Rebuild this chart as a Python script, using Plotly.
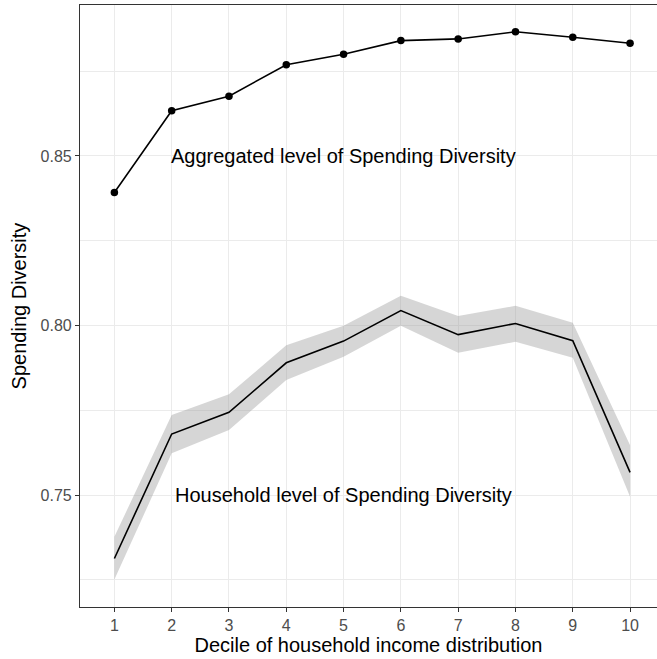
import plotly.graph_objects as go

deciles = [1, 2, 3, 4, 5, 6, 7, 8, 9, 10]
aggregated = [0.8392, 0.8633, 0.8676, 0.8769, 0.8800, 0.8840, 0.8845, 0.8866, 0.8850, 0.8832]
household = [0.7313, 0.7680, 0.7744, 0.7890, 0.7954, 0.8044, 0.7973, 0.8006, 0.7955, 0.7567]
household_upper = [0.7377, 0.7736, 0.7797, 0.7942, 0.7999, 0.8088, 0.8028, 0.8058, 0.8008, 0.7647]
household_lower = [0.7251, 0.7623, 0.7692, 0.7839, 0.7908, 0.7999, 0.7920, 0.7952, 0.7905, 0.7495]

y_ticks = [0.75, 0.80, 0.85]
y_tick_text = ["0.75", "0.80", "0.85"]
x_title = "Decile of household income distribution"
y_title = "Spending Diversity"
label_agg = "Aggregated level of Spending Diversity"
label_hh = "Household level of Spending Diversity"

FONT = "Liberation Sans, Arial, sans-serif"

fig = go.Figure()

# ribbon
fig.add_trace(go.Scatter(x=deciles, y=household_upper, mode="lines",
                         line=dict(width=0, color="rgba(0,0,0,0)"),
                         showlegend=False, hoverinfo="skip"))
fig.add_trace(go.Scatter(x=deciles, y=household_lower, mode="lines",
                         line=dict(width=0, color="rgba(0,0,0,0)"),
                         fill="tonexty", fillcolor="rgba(153,153,153,0.4)",
                         showlegend=False, hoverinfo="skip"))
fig.add_trace(go.Scatter(x=deciles, y=household, mode="lines",
                         line=dict(color="black", width=1.6),
                         showlegend=False))
fig.add_trace(go.Scatter(x=deciles, y=aggregated, mode="lines+markers",
                         line=dict(color="black", width=1.6),
                         marker=dict(color="black", size=7.5),
                         showlegend=False))

fig.add_annotation(x=5, y=0.85, text=label_agg, showarrow=False,
                   font=dict(family=FONT, size=20, color="black"),
                   xanchor="center", yanchor="middle")
fig.add_annotation(x=5, y=0.75, text=label_hh, showarrow=False,
                   font=dict(family=FONT, size=20, color="black"),
                   xanchor="center", yanchor="middle")

fig.update_layout(
    width=657, height=659,
    margin=dict(l=80, r=0, t=5, b=52, autoexpand=False),
    paper_bgcolor="white", plot_bgcolor="white",
    font=dict(family=FONT),
    showlegend=False,
)

fig.update_xaxes(
    range=[0.40, 10.47], automargin=False,
    tickmode="array", tickvals=deciles, ticktext=[str(d) for d in deciles],
    showgrid=True, gridcolor="#EBEBEB", gridwidth=1.1,
    zeroline=False,
    showline=True, linecolor="#333333", linewidth=1.1, mirror=True,
    ticks="outside", ticklen=4, tickcolor="#333333", tickwidth=1.1,
    tickfont=dict(family=FONT, size=16, color="#4D4D4D"),
    title=dict(text=x_title, font=dict(family=FONT, size=20, color="black"), standoff=2),
)
fig.update_yaxes(
    range=[0.7170, 0.8945], automargin=False,
    tickmode="array", tickvals=y_ticks, ticktext=y_tick_text,
    showgrid=True, gridcolor="#EBEBEB", gridwidth=1.1,
    minor=dict(tickmode="array", tickvals=[0.725, 0.775, 0.825, 0.875],
               showgrid=True, gridcolor="#EBEBEB", gridwidth=0.55, ticks=""),
    zeroline=False,
    showline=True, linecolor="#333333", linewidth=1.1, mirror=True,
    ticks="outside", ticklen=4, tickcolor="#333333", tickwidth=1.1,
    tickfont=dict(family=FONT, size=16, color="#4D4D4D"),
    title=dict(text=y_title, font=dict(family=FONT, size=20, color="black"), standoff=8),
)

fig.write_html(
    "out.html",
    config={"displayModeBar": False},
    post_script="document.body.style.margin='0';document.body.style.overflow='hidden';document.documentElement.style.overflow='hidden';",
)
